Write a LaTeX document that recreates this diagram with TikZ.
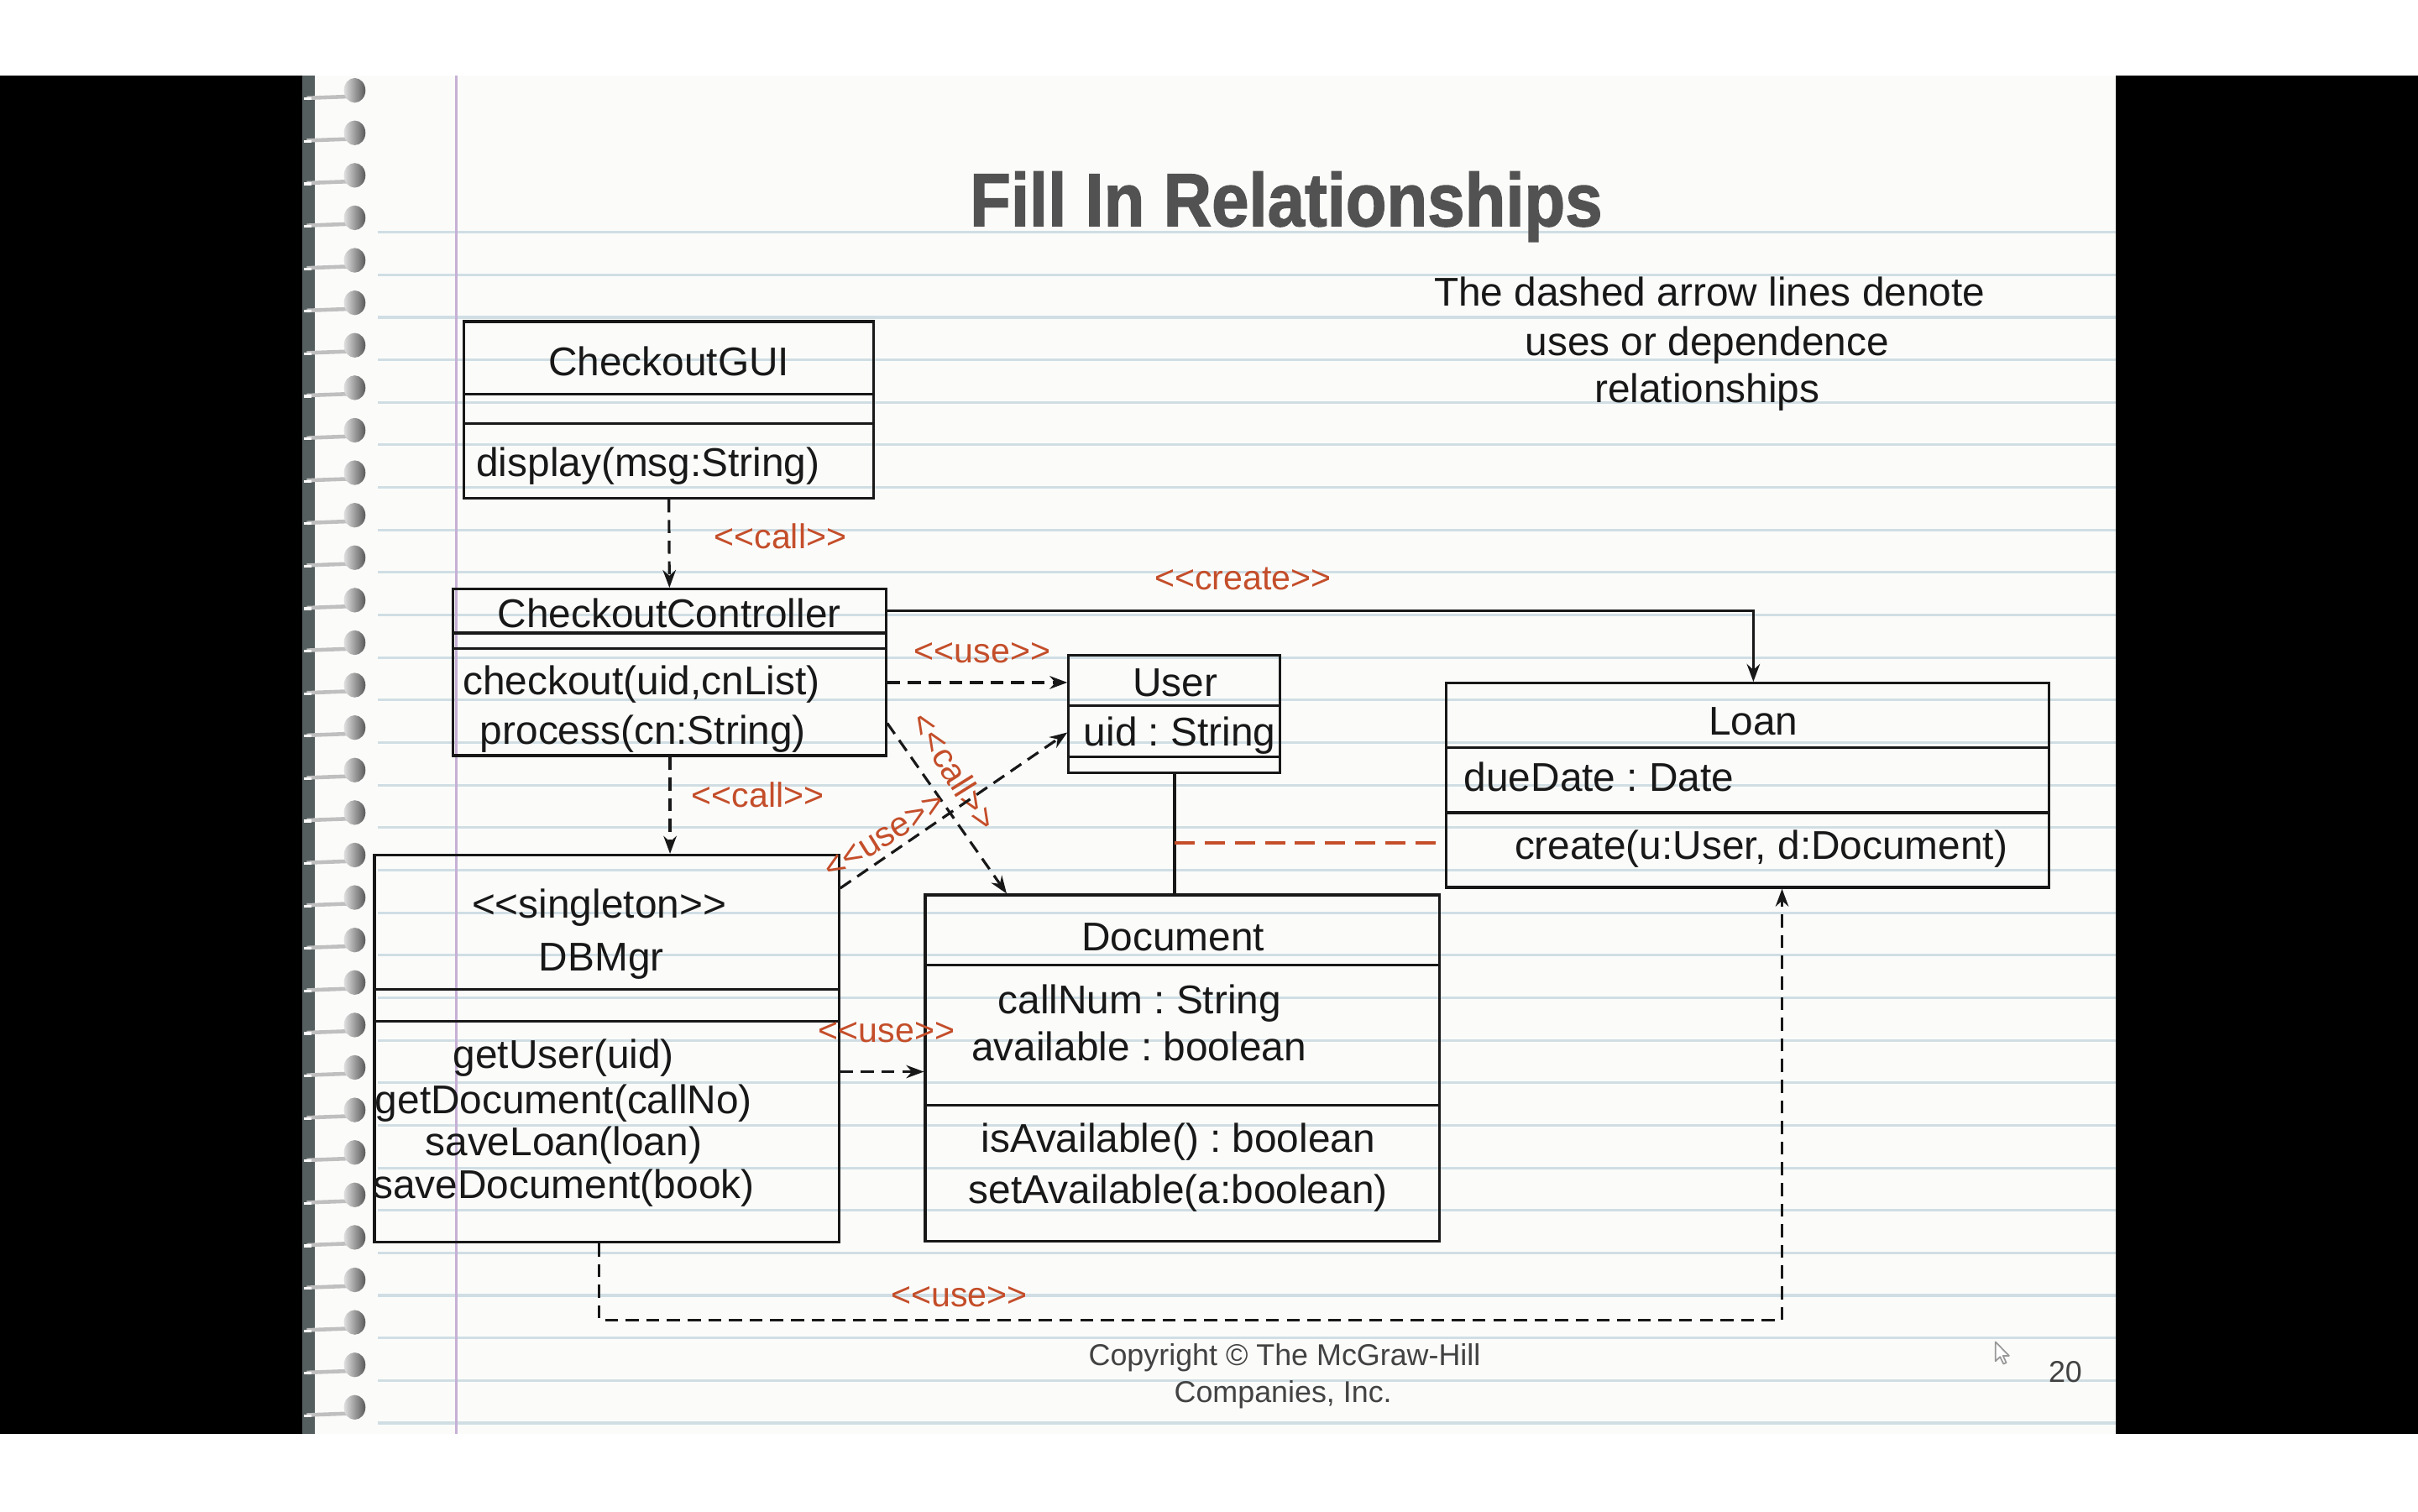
\documentclass[tikz,border=0pt]{standalone}
\usepackage{fontspec}
\setmainfont{Liberation Sans}
\newfontfamily\titlefont{Liberation Sans}[BoldFeatures={FakeBold=1.6}]
\usetikzlibrary{arrows.meta,fit}
\definecolor{lblred}{RGB}{196,78,42}
\definecolor{inkc}{RGB}{24,24,24}
\definecolor{rulec}{RGB}{208,222,228}
\definecolor{marginc}{RGB}{198,176,214}
\definecolor{paper}{RGB}{251,252,250}
\definecolor{titlec}{RGB}{82,82,82}
\definecolor{stripc}{RGB}{84,94,94}
\definecolor{footc}{RGB}{66,66,66}
\newcommand\stereo[1]{<\kern0pt<#1>\kern0pt>}
\frenchspacing
\begin{document}
\frenchspacing
\begin{tikzpicture}[x=0.183673mm,y=-0.183673mm,
 classbox/.style={draw=inkc, line width=0.9pt, inner sep=0pt},
 divider/.style={draw=inkc, line width=0.9pt},
 txt/.style={inner sep=0pt, text height=9.8pt, text depth=0pt, text=inkc, font=\fontsize{13.6}{16}\selectfont\frenchspacing},
 lbl/.style={inner sep=0pt, text height=8.4pt, text depth=0pt, text=lblred, font=\fontsize{11.7}{14}\selectfont},
 foot/.style={inner sep=0pt, text height=7.3pt, text depth=0pt, text=footc, font=\fontsize{10.2}{12}\selectfont\frenchspacing},
 dep/.style={draw=inkc, line width=0.9pt, dash pattern=on 4.4pt off 2.6pt, -{Stealth[length=6pt,width=4.4pt]}},
 assocl/.style={draw=inkc, line width=0.9pt},
 createl/.style={draw=inkc, line width=0.9pt, -{Stealth[length=6pt,width=4.4pt]}},
 linkl/.style={draw=lblred, line width=1pt, dash pattern=on 6.8pt off 3.4pt},
]
\useasboundingbox (0,0) rectangle (1568,980);
\fill[white] (0,0) rectangle (1568,980);
\fill[black] (0,49) rectangle (196,930);
\fill[black] (1372,49) rectangle (1568,930);
\fill[paper] (196,49) rectangle (1372,930);
\fill[stripc] (196,49) rectangle (204,930);
% ruled lines
\foreach \k in {0,...,28} {
  \draw[rulec, line width=0.9pt] (245,150.6+27.58*\k) -- (1372,150.6+27.58*\k);
}
% margin line
\draw[marginc, line width=0.9pt] (296,49) -- (296,930);
% spiral rings
\foreach \k in {0,...,31} {
  \pgfmathsetmacro\ry{58.6+27.55*\k}
  \draw[gray!50, line width=1.3pt] (199,\ry+5) -- (226,\ry+4);
  \draw[white, line width=0.9pt] (197,\ry+5.5) -- (202,\ry+5.5);
  \shade[left color=gray!25, right color=gray!70!black] (230,\ry) ellipse [x radius=7, y radius=8];
}
% title and note
\node[anchor=base, inner sep=0pt, text=titlec, font=\titlefont\fontsize{25.5}{30}\selectfont\bfseries] (title) at (834,146.6) {\scalebox{0.89}[1]{Fill In Relationships}};
\node[txt] (note1) at (1108.6,189.3) {The dashed arrow lines denote};
\node[txt] (note2) at (1107,221.1) {uses or dependence};
\node[txt] (note3) at (1107,251.9) {relationships};

% CheckoutGUI
\node[classbox, fit={(301,208.5) (566.5,323)}] (gui) {};
\draw[divider] (301,255.5) -- (566.5,255.5);
\draw[divider] (301,274.5) -- (566.5,274.5);
\node[txt] (guiname) at (433.7,234) {CheckoutGUI};
\node[txt, anchor=west] (guiop) at (308.5,299.5) {display(msg:String)};

% CheckoutController
\node[classbox, fit={(293.7,382) (574.5,490)}] (cc) {};
\draw[divider] (293.7,410.5) -- (574.5,410.5);
\draw[divider] (293.7,420.5) -- (574.5,420.5);
\node[txt] (ccname) at (434,397.5) {CheckoutController};
\node[txt, anchor=west] (ccop1) at (299.8,441) {checkout(uid,cnList)};
\node[txt, anchor=west] (ccop2) at (311,473.5) {process(cn:String)};

% User
\node[classbox, fit={(693,425) (830,501)}] (user) {};
\draw[divider] (693,457.5) -- (830,457.5);
\draw[divider] (693,491) -- (830,491);
\node[txt] (username) at (762,442) {User};
\node[txt] (userattr) at (765,474.5) {uid : String};

% Loan
\node[classbox, fit={(938,443) (1328.5,575.5)}] (loan) {};
\draw[divider] (938,485) -- (1328.5,485);
\draw[divider] (938,527) -- (1328.5,527);
\node[txt] (loanname) at (1137,467.5) {Loan};
\node[txt, anchor=west] (loanattr) at (949,504) {dueDate : Date};
\node[txt] (loanop) at (1142,548) {create(u:User, d:Document)};

% DBMgr
\node[classbox, fit={(242.8,554.5) (544,805.5)}] (dbmgr) {};
\draw[divider] (242.8,641.5) -- (544,641.5);
\draw[divider] (242.8,662.5) -- (544,662.5);
\node[txt] (dbster) at (388.5,585.7) {\stereo{singleton}};
\node[txt] (dbname) at (390,620) {DBMgr};
\node[txt] (dbop1) at (365.5,683.6) {getUser(uid)};
\node[txt] (dbop2) at (365.5,712.7) {getDocument(callNo)};
\node[txt] (dbop3) at (365.5,740) {saveLoan(loan)};
\node[txt] (dbop4) at (365.5,768) {saveDocument(book)};

% Document
\node[classbox, fit={(600,580.4) (933.3,805)}] (doc) {};
\draw[divider] (600,625.8) -- (933.3,625.8);
\draw[divider] (600,716.9) -- (933.3,716.9);
\node[txt] (docname) at (760.6,607) {Document};
\node[txt] (docattr1) at (739,648) {callNum : String};
\node[txt] (docattr2) at (738.6,678.7) {available : boolean};
\node[txt] (docop1) at (764,737.7) {isAvailable() : boolean};
\node[txt] (docop2) at (764,771.3) {setAvailable(a:boolean)};

% connectors
\draw[dep] (gui.south) -- (cc.north);
\node[lbl] (lcall1) at (506,348) {\stereo{call}};

\draw[createl] (cc.east |- 0,396) -| (1137,0 |- loan.north);
\node[lbl] (lcreate) at (806,374.6) {\stereo{create}};

\draw[dep] (cc.east |- 0,442.6) -- (user.west |- 0,442.6);
\node[lbl] (luse1) at (637,422) {\stereo{use}};

\draw[dep] (cc.east |- 0,469) -- (652.8,0 |- doc.north);
\node[lbl, rotate=-58] (lcall2) at (619,500) {\stereo{call}};

\draw[dep] (cc.south -| 434.5,0) -- (dbmgr.north -| 434.5,0);
\node[lbl] (lcall3) at (491.5,515.6) {\stereo{call}};

\draw[dep] (dbmgr.east |- 0,576) -- (user.west |- 0,475);
\node[lbl, rotate=32] (luse2) at (573,541) {\stereo{use}};

\draw[assocl] (user.south -| 761.7,0) -- (doc.north -| 761.7,0);
\coordinate (assoc) at (761.7,546.5);
\draw[linkl] (assoc) -- (loan.west |- assoc);

\draw[dep] (dbmgr.east |- 0,695) -- (doc.west |- 0,695);
\node[lbl] (luse3) at (575,668) {\stereo{use}};

\draw[dep] (dbmgr.south -| 388.6,0) -- (388.6,856.2) -| (1155.6,0 |- loan.south);
\node[lbl] (luse4) at (622,839.4) {\stereo{use}};

% footer
\node[foot] (copy1) at (833,878.4) {Copyright © The McGraw-Hill};
\node[foot] (copy2) at (832,902.7) {Companies, Inc.};
\node[foot] (pageno) at (1339.3,889.7) {20};

% mouse cursor
\draw[fill=white, draw=gray!80, line width=0.5pt, line join=round]
  (1294,870.2) -- ++(0,12.5) -- ++(3,-2.8) -- ++(2.2,4.6) -- ++(1.8,-0.8) -- ++(-2.1,-4.5) -- ++(3.9,0) -- cycle;
\end{tikzpicture}
\end{document}
